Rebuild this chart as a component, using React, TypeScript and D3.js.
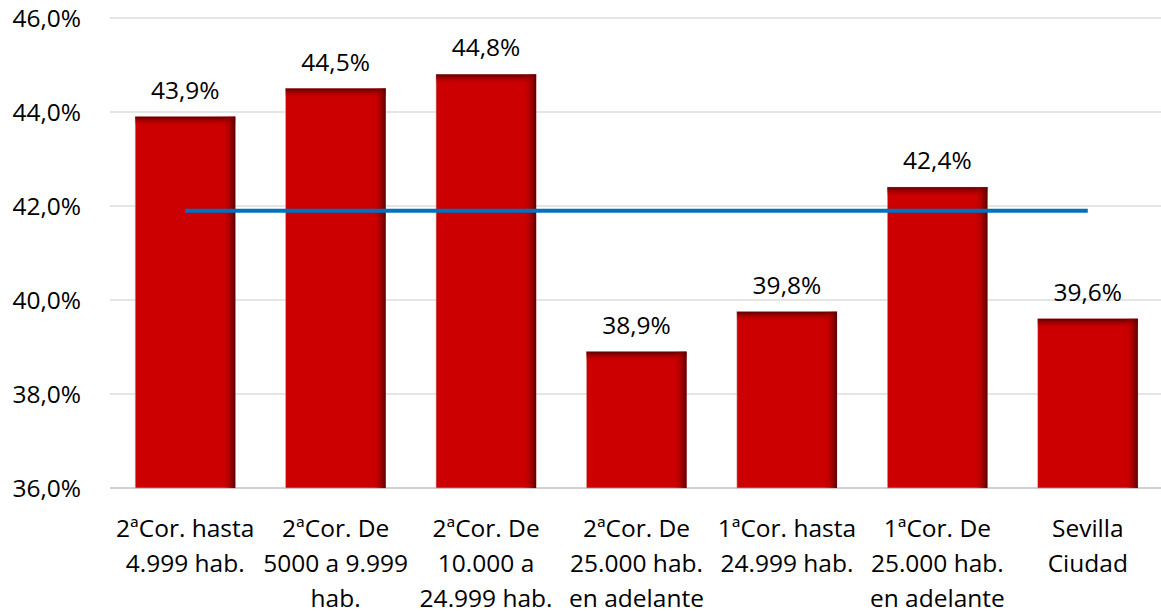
import * as d3 from 'd3';

const categories = [
  ['2ªCor. hasta', '4.999 hab.'],
  ['2ªCor. De', '5000 a 9.999', 'hab.'],
  ['2ªCor. De', '10.000 a', '24.999 hab.'],
  ['2ªCor. De', '25.000 hab.', 'en adelante'],
  ['1ªCor. hasta', '24.999 hab.'],
  ['1ªCor. De', '25.000 hab.', 'en adelante'],
  ['Sevilla', 'Ciudad'],
];
const values = [43.9, 44.5, 44.8, 38.9, 39.75, 42.4, 39.6];
const labels = ['43,9%', '44,5%', '44,8%', '38,9%', '39,8%', '42,4%', '39,6%'];
const average = 41.9;
const yTicks = [36, 38, 40, 42, 44, 46];

const W = 1161;
const H = 611;
const margin = { top: 18, right: -2, bottom: 123, left: 110 };
const font = '"Open Sans", "Noto Sans", sans-serif';
const fs = 24.5;
const fmt = (v: number) => v.toFixed(1).replace('.', ',') + '%';

export default function App() {
  const x = d3
    .scaleBand<number>()
    .domain(d3.range(values.length))
    .range([margin.left, W - margin.right])
    .paddingInner(0.335)
    .paddingOuter(0.1675);
  const y = d3.scaleLinear().domain([36, 46]).range([H - margin.bottom, margin.top]);
  const bw = x.bandwidth();
  const cx = (i: number) => (x(i) as number) + bw / 2;

  const avgLine = d3.line<number>()
    .x((i) => cx(i))
    .y(() => y(average));

  return (
    <svg width={W} height={H} style={{ position: 'absolute', left: 0, top: 0 }} fontFamily={font}>
      <defs>
        <linearGradient id="topShade" x1="0" y1="0" x2="0" y2="1">
          <stop offset="0" stopColor="#5a0000" stopOpacity={1} />
          <stop offset="1" stopColor="#cc0000" stopOpacity={0} />
        </linearGradient>
        <linearGradient id="rightShade" x1="0" y1="0" x2="1" y2="0">
          <stop offset="0" stopColor="#cc0000" stopOpacity={0} />
          <stop offset="1" stopColor="#5a0000" stopOpacity={1} />
        </linearGradient>
      </defs>
      <rect width={W} height={H} fill="#fff" />
      {yTicks.map((t) => (
        <g key={t}>
          <line x1={margin.left} x2={W} y1={y(t)} y2={y(t)}
            stroke={t === 36 ? '#d0d0d0' : '#dcdcdc'} strokeWidth={t === 36 ? 2 : 1.5} />
          <text x={81} y={y(t)} dy="0.35em" textAnchor="end" fontSize={fs} fill="#000">
            {fmt(t)}
          </text>
        </g>
      ))}
      {values.map((v, i) => {
        const x0 = x(i) as number;
        const y0 = y(v);
        const h = y(36) - y0;
        return (
          <g key={i}>
            <rect x={x0} y={y0} width={bw} height={h} fill="#cc0000" stroke="#e0a0a0" strokeWidth={0.6} />
            <rect x={x0} y={y0} width={bw} height={10} fill="url(#topShade)" />
            <rect x={x0 + bw - 13} y={y0} width={13} height={h} fill="url(#rightShade)" />
            <text x={cx(i)} y={y0 - 18} textAnchor="middle" fontSize={fs} fill="#000">
              {labels[i]}
            </text>
          </g>
        );
      })}
      <path d={avgLine([0, values.length - 1]) as string} stroke="#0070c0" strokeWidth={4} fill="none" />
      {categories.map((lines, i) => (
        <text key={i} x={cx(i)} textAnchor="middle" fontSize={fs} fill="#000">
          {lines.map((l, j) => (
            <tspan key={j} x={cx(i)} y={537 + j * 35}>{l}</tspan>
          ))}
        </text>
      ))}
    </svg>
  );
}
